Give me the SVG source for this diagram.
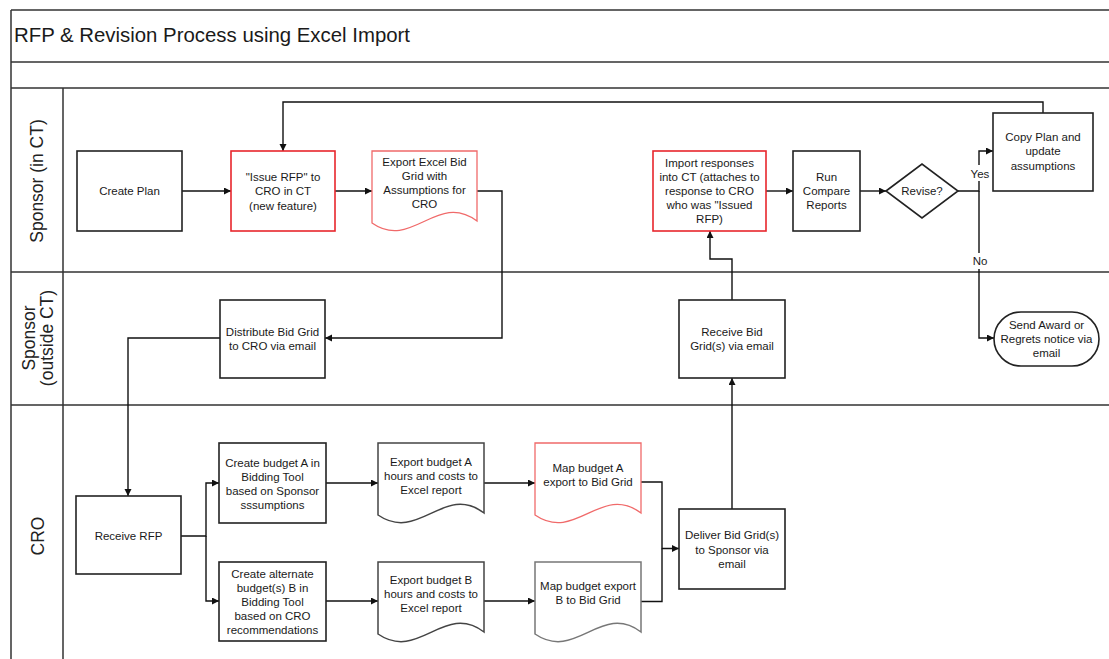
<svg xmlns="http://www.w3.org/2000/svg" width="1109" height="659" viewBox="0 0 1109 659">
<defs>
<marker id="arr" markerUnits="userSpaceOnUse" markerWidth="8" markerHeight="8" refX="7" refY="3.5" orient="auto">
<path d="M0,0 L7,3.5 L0,7 z" fill="#111"/>
</marker>
<style>
.frame{fill:none;stroke:#333;stroke-width:1.5}
.box{fill:#fff;stroke:#222;stroke-width:1.6}
.red{fill:#fff;stroke:#e8262c;stroke-width:1.6}
.lred{fill:#fff;stroke:#f06a6a;stroke-width:1.3}
.gray{fill:#fff;stroke:#777;stroke-width:1.5}
.t{font-family:"Liberation Sans",Arial,sans-serif;font-size:11.5px;fill:#1a1a1a;text-anchor:middle}
.lane{font-family:"Liberation Sans",Arial,sans-serif;font-size:17.5px;fill:#222;text-anchor:middle}
.c{fill:none;stroke:#111;stroke-width:1.4}
.ca{fill:none;stroke:#111;stroke-width:1.4;marker-end:url(#arr)}
</style>
</defs>
<rect width="1109" height="659" fill="#fff"/>
<g id="frame">
<path class="frame" d="M11,10 H1109 M11,10 V659 M11,62 H1109 M11,88 H1109 M63,88 V659 M11,272 H1109 M11,405 H1109"/>
<text x="14" y="42" font-family="Liberation Sans, Arial, sans-serif" font-size="20.5" fill="#1a1a1a" textLength="396" lengthAdjust="spacingAndGlyphs">RFP &amp; Revision Process using Excel Import</text>
<text class="lane" transform="translate(43,181) rotate(-90)">Sponsor (in CT)</text>
<text class="lane" transform="translate(35,338) rotate(-90)">Sponsor</text>
<text class="lane" transform="translate(53,338) rotate(-90)">(outside CT)</text>
<text class="lane" transform="translate(44,536) rotate(-90)">CRO</text>
</g>
<g id="connectors">
<path class="ca" d="M182,191 H231"/>
<path class="ca" d="M335,191 H372"/>
<path class="ca" d="M477,191 H502 V338 H325"/>
<path class="ca" d="M220,338 H128 V496"/>
<path class="ca" d="M181,536 H206 V483 H219"/>
<path class="ca" d="M206,536 V601 H219"/>
<path class="ca" d="M326,483 H378"/>
<path class="ca" d="M326,601 H378"/>
<path class="ca" d="M484,483 H535"/>
<path class="ca" d="M484,601 H535"/>
<path class="ca" d="M641,482 H662 V548.5 H679"/>
<path class="c" d="M641,601.5 H662 V548.5"/>
<path class="ca" d="M732,509 V378"/>
<path class="ca" d="M732,300 V259 H710 V231"/>
<path class="ca" d="M766,191 H793"/>
<path class="ca" d="M860,191 H886"/>
<path class="ca" d="M958,191 H979 V151 H993"/>
<path class="ca" d="M979,191 V338 H994"/>
<path class="ca" d="M1043,113 V102 H283 V151"/>
<rect x="969" y="165" width="22" height="16" fill="#fff"/>
<text class="t" x="980" y="177.5">Yes</text>
<rect x="971" y="253" width="18" height="16" fill="#fff"/>
<text class="t" x="980" y="265">No</text>
</g>
<g id="createPlan">
<rect class="box" x="77" y="151" width="105" height="80"/>
<text class="t" x="129.5" y="195">Create Plan</text>
</g>
<g id="issueRfp">
<rect class="red" x="231" y="151" width="104" height="80"/>
<text class="t" x="283" y="181">"Issue RFP" to<tspan x="283" dy="14.3">CRO in CT</tspan><tspan x="283" dy="14.3">(new feature)</tspan></text>
</g>
<g id="exportExcel">
<path class="lred" d="M372,151 H477 V221 C437,191 412,251 372,223 Z"/>
<text class="t" x="424.5" y="166">Export Excel Bid<tspan x="424.5" dy="14">Grid with</tspan><tspan x="424.5" dy="14">Assumptions for</tspan><tspan x="424.5" dy="14">CRO</tspan></text>
</g>
<g id="importResp">
<rect class="red" x="653" y="151" width="113" height="80"/>
<text class="t" x="709.5" y="167">Import responses<tspan x="709.5" dy="14">into CT (attaches to</tspan><tspan x="709.5" dy="14">response to CRO</tspan><tspan x="709.5" dy="14">who was "Issued</tspan><tspan x="709.5" dy="14">RFP)</tspan></text>
</g>
<g id="runCompare">
<rect class="box" x="793" y="151" width="67" height="80"/>
<text class="t" x="826.5" y="181">Run<tspan x="826.5" dy="14">Compare</tspan><tspan x="826.5" dy="14">Reports</tspan></text>
</g>
<g id="revise">
<polygon class="box" points="886,191 922,164 958,191 922,218"/>
<text class="t" x="922" y="195">Revise?</text>
</g>
<g id="copyPlan">
<rect class="box" x="993" y="113" width="100" height="78"/>
<text class="t" x="1043" y="141">Copy Plan and<tspan x="1043" dy="14.3">update</tspan><tspan x="1043" dy="14.3">assumptions</tspan></text>
</g>
<g id="distribute">
<rect class="box" x="220" y="300" width="105" height="78"/>
<text class="t" x="272.5" y="336">Distribute Bid Grid<tspan x="272.5" dy="14">to CRO via email</tspan></text>
</g>
<g id="receiveBid">
<rect class="box" x="679" y="300" width="106" height="78"/>
<text class="t" x="732" y="336">Receive Bid<tspan x="732" dy="14">Grid(s) via email</tspan></text>
</g>
<g id="sendAward">
<rect class="box" x="994" y="312" width="105" height="54" rx="27" ry="27"/>
<text class="t" x="1046.5" y="329">Send Award or<tspan x="1046.5" dy="13.8">Regrets notice via</tspan><tspan x="1046.5" dy="13.8">email</tspan></text>
</g>
<g id="receiveRfp">
<rect class="box" x="76" y="496" width="105" height="78"/>
<text class="t" x="128.5" y="540">Receive RFP</text>
</g>
<g id="createA">
<rect class="box" x="219" y="443" width="107" height="80"/>
<text class="t" x="272.5" y="467">Create budget A in<tspan x="272.5" dy="14">Bidding Tool</tspan><tspan x="272.5" dy="14">based on Sponsor</tspan><tspan x="272.5" dy="14">sssumptions</tspan></text>
</g>
<g id="createAlt">
<rect class="box" x="219" y="562" width="107" height="79"/>
<text class="t" x="272.5" y="577.5">Create alternate<tspan x="272.5" dy="14.2">budget(s) B in</tspan><tspan x="272.5" dy="14.2">Bidding Tool</tspan><tspan x="272.5" dy="14.2">based on CRO</tspan><tspan x="272.5" dy="14.2">recommendations</tspan></text>
</g>
<g id="exportA">
<path class="gray" style="stroke:#444" d="M378,443 H484 V513 C444,483 419,543 378,515 Z"/>
<text class="t" x="431" y="466">Export budget A<tspan x="431" dy="14">hours and costs to</tspan><tspan x="431" dy="14">Excel report</tspan></text>
</g>
<g id="exportB">
<path class="gray" style="stroke:#444" d="M378,562 H484 V632 C444,602 419,662 378,634 Z"/>
<text class="t" x="431" y="584">Export budget B<tspan x="431" dy="14.2">hours and costs to</tspan><tspan x="431" dy="14.2">Excel report</tspan></text>
</g>
<g id="mapA">
<path class="lred" d="M535,443 H641 V513 C601,483 576,543 535,515 Z"/>
<text class="t" x="588" y="472.3">Map budget A<tspan x="588" dy="14">export to Bid Grid</tspan></text>
</g>
<g id="mapB">
<path class="gray" d="M535,562 H641 V632 C601,602 576,662 535,634 Z"/>
<text class="t" x="588" y="590">Map budget export<tspan x="588" dy="14.4">B to Bid Grid</tspan></text>
</g>
<g id="deliver">
<rect class="box" x="679" y="509" width="106" height="80"/>
<text class="t" x="732" y="539">Deliver Bid Grid(s)<tspan x="732" dy="14.5">to Sponsor via</tspan><tspan x="732" dy="14.5">email</tspan></text>
</g>
</svg>
